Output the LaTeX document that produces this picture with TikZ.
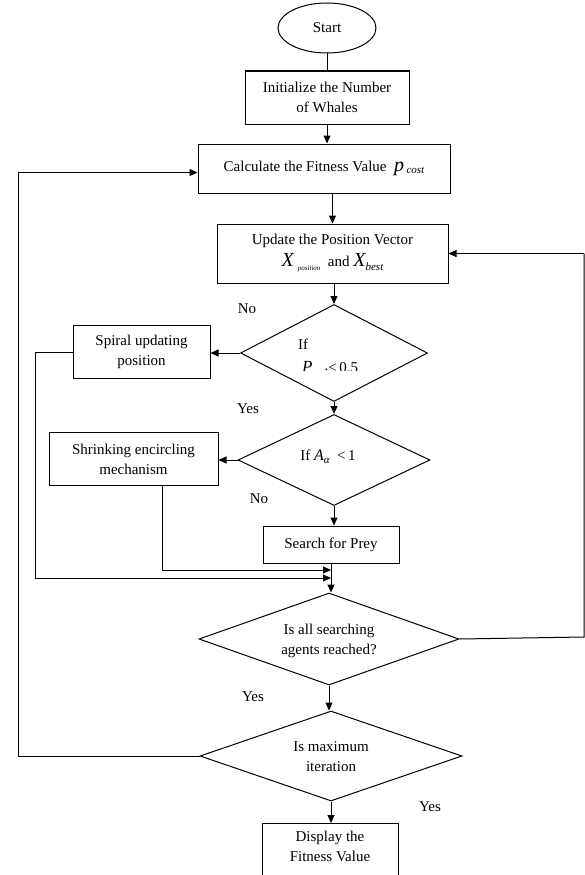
\documentclass[tikz,border=0pt]{standalone}
\usepackage{fontspec}
\setmainfont{Liberation Serif}
\usetikzlibrary{shapes.geometric,arrows.meta}
\newcommand{\pcost}{{\fontsize{20}{20}\selectfont\itshape p}\,\raisebox{-1.5pt}{\fontsize{11}{11}\selectfont\itshape cost}}
\newcommand{\xsub}[3]{{\fontsize{20}{20}\selectfont\itshape X}\hspace{#3}\raisebox{-4pt}{\fontsize{#1}{#1}\selectfont\itshape #2}}
\begin{document}
\begin{tikzpicture}[x=1pt,y=-1pt,
  every node/.style={font=\fontsize{15}{20}\selectfont},
  box/.style={draw,line width=1pt,rectangle,inner sep=0pt,align=center},
  dia/.style={draw,line width=1pt,diamond,inner sep=0pt},
  lbl/.style={inner sep=0pt,align=center},
  con/.style={line width=1pt},
  arr/.style={con,-{Triangle[length=8pt,width=7pt]}}]
\useasboundingbox (0,0) rectangle (585,875);
% nodes
\node[draw,ellipse,line width=1pt,minimum width=98pt,minimum height=50pt,inner sep=0pt] (start) at (327,28) {Start};
\node[box,minimum width=164,minimum height=53] (init) at (327,97.5) {Initialize the Number\\of Whales};
\node[box,minimum width=252,minimum height=49] (calc) at (324,168.5) {Calculate the Fitness Value\ \ \pcost};
\node[box,minimum width=231,minimum height=59] (upd) at (332.5,253.5) {Update the Position Vector\\[2pt]\xsub{7}{position}{4pt}\ \ and\ \xsub{11}{best}{0pt}};
\node[dia,minimum width=187,minimum height=97] (d1) at (334,353) {};
\node[box,minimum width=137,minimum height=53] (spiral) at (141.5,352) {Spiral updating\\position};
\node[dia,minimum width=192,minimum height=91] (d2) at (334,460) {};
\node[box,minimum width=169,minimum height=53] (shrink) at (133.5,459) {Shrinking encircling\\mechanism};
\node[box,minimum width=136,minimum height=37] (search) at (331,544.5) {Search for Prey};
\node[dia,minimum width=260,minimum height=92] (d3) at (329,639) {};
\node[dia,minimum width=262,minimum height=90] (d4) at (331,756) {};
\node[box,minimum width=136,minimum height=60,anchor=north] (disp) at (330,823) {};
% texts inside
\node[lbl] (d1a) at (303,344) {If};
\begin{scope}
\clip (250,330) rectangle (420,370.5);
\node[lbl,anchor=base west] (d1b) at (302,372.5) {{\fontsize{17}{17}\selectfont\itshape P}\hspace{12pt}\raisebox{2pt}{.}<\,0.5};
\end{scope}
\node[lbl] (d2t) at (328,457) {If {\fontsize{16}{16}\selectfont\itshape A}\raisebox{-3pt}{\fontsize{11}{11}\selectfont\itshape α}\ \ <\,1};
\node[lbl] (d3t) at (329,641) {Is all searching\\agents reached?};
\node[lbl] (d4t) at (331,757) {Is maximum\\iteration};
\node[lbl] (dispt) at (330,846) {Display the\\Fitness Value};
% branch labels
\node[lbl] (no1) at (247,309) {No};
\node[lbl] (yes1) at (248,409) {Yes};
\node[lbl] (no2) at (259,499) {No};
\node[lbl] (yes2) at (253,697) {Yes};
\node[lbl] (yes3) at (430,807) {Yes};
% coordinates
\coordinate (sp1) at (35,352);
\coordinate (sp2) at (35,578);
\coordinate (sh1) at (162,485);
\coordinate (sh2) at (162,570);
\coordinate (m1) at (331,570);
\coordinate (m2) at (331,578);
\coordinate (l1) at (18,756);
\coordinate (l2) at (18,172.5);
\coordinate (r1) at (584,637);
\coordinate (r2) at (584,253.5);
% connectors
\draw[con] (start.south) -- (start.south |- init.north);
\draw[arr] (init.south) -- (init.south |- calc.north);
\draw[arr] (upd.north |- calc.south) -- (upd.north);
\draw[arr] (upd.south -| d1.north) -- (d1.north);
\draw[arr] (d1.south) -- (d2.north);
\draw[arr] (d2.south) -- (d2.south |- search.north);
\draw[arr] (d1.west) -- (d1.west -| spiral.east);
\draw[arr] (d2.west) -- (d2.west -| shrink.east);
\draw[con] (spiral.west) -- (sp1) -- (sp2);
\draw[arr] (sp2) -- (m2);
\draw[con] (sh1) -- (sh2);
\draw[arr] (sh2) -- (m1);
\draw[arr] (search.south) -- (search.south |- d3.north);
\draw[arr] (d3.south) -- (d3.south |- d4.north);
\draw[arr] (d4.south) -- (d4.south |- disp.north);
\draw[con] (d4.west) -- (l1) -- (l2);
\draw[arr] (l2) -- (l2 -| calc.west);
\draw[con] (d3.east) -- (r1) -- (r2);
\draw[arr] (r2) -- (upd.east);
\end{tikzpicture}
\end{document}
